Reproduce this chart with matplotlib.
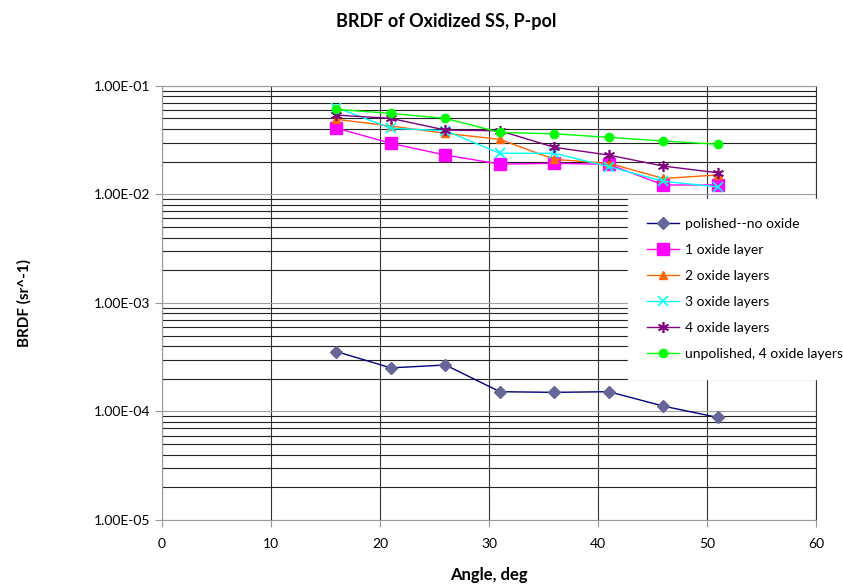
import matplotlib
matplotlib.use('Agg')
import matplotlib.pyplot as plt
from matplotlib.ticker import LogLocator, FuncFormatter, NullFormatter

plt.rcParams['font.family'] = ['Lato', 'DejaVu Sans']

angle = [16, 21, 26, 31, 36, 41, 46, 51]

polished = [3.56e-4, 2.52e-4, 2.68e-4, 1.52e-4, 1.50e-4, 1.52e-4, 1.12e-4, 8.8e-5]
oxide1 = [0.0408, 0.0295, 0.0230, 0.0190, 0.0193, 0.0189, 0.0122, 0.0122]
oxide2 = [0.0491, 0.0426, 0.0365, 0.0321, 0.0210, 0.0193, 0.0140, 0.0151]
oxide3 = [0.0630, 0.0406, 0.0385, 0.0239, 0.0239, 0.0180, 0.0132, 0.0117]
oxide4 = [0.0537, 0.0501, 0.0391, 0.0385, 0.0271, 0.0230, 0.0182, 0.0158]
unpolished4 = [0.0606, 0.0557, 0.0501, 0.0372, 0.0361, 0.0335, 0.0310, 0.0289]

labels = ['polished--no oxide', '1 oxide layer', '2 oxide layers',
          '3 oxide layers', '4 oxide layers', 'unpolished, 4 oxide layers']

fig = plt.figure(figsize=(8.43, 5.86), dpi=100)
ax = fig.add_axes([0.1922, 0.1126, 0.7758, 0.7410])

ax.plot(angle, polished, color='#000080', lw=1, marker='D', ms=6,
        mfc='#666699', mec='#666699', label=labels[0])
ax.plot(angle, oxide1, color='#FF00FF', lw=1, marker='s', ms=8,
        mfc='#FF00FF', mec='#FF00FF', label=labels[1])
ax.plot(angle, oxide2, color='#FF6600', lw=1, marker='^', ms=6,
        mfc='#FF6600', mec='#FF6600', label=labels[2])
ax.plot(angle, oxide3, color='#00FFFF', lw=1, marker='x', ms=7, mew=1.2,
        label=labels[3])
ax.plot(angle, oxide4, color='#800080', lw=1, marker=(6, 2, 0), ms=8,
        mew=1.2, label=labels[4])
ax.plot(angle, unpolished4, color='#00FF00', lw=1, marker='o', ms=6,
        mfc='#00FF00', mec='#00FF00', label=labels[5])

ax.set_yscale('log')
ax.set_ylim(1e-5, 1e-1)
ax.set_xlim(0, 60)
ax.set_xticks(range(0, 61, 10))
ax.yaxis.set_major_locator(LogLocator(base=10, numticks=10))
ax.yaxis.set_minor_locator(LogLocator(base=10, subs=range(2, 10), numticks=20))
ax.yaxis.set_major_formatter(FuncFormatter(lambda v, p: f"{v:.2E}"))
ax.yaxis.set_minor_formatter(NullFormatter())

ax.set_axisbelow(True)
ax.grid(which='minor', axis='y', color='#222222', lw=0.8)
ax.grid(which='major', axis='y', color='#a0a0a0', lw=0.8)
ax.grid(which='major', axis='x', color='#333333', lw=0.8)

for side in ['left', 'bottom', 'top']:
    ax.spines[side].set_color('#999999')
ax.spines['right'].set_color('#333333')
ax.spines['right'].set_linewidth(0.8)

ax.tick_params(which='major', length=5, color='#999999', labelsize=10,
               labelcolor='black')
ax.tick_params(axis='x', pad=8)
ax.tick_params(which='minor', length=0)

fig.text(0.5297, 0.964, 'BRDF of Oxidized SS, P-pol', ha='center',
         va='center', fontsize=13, fontweight='bold')
ax.set_xlabel('Angle, deg', fontsize=12, fontweight='bold', labelpad=12)
ax.set_ylabel('BRDF (sr^-1)', fontsize=11, fontweight='bold', labelpad=45)

leg = ax.legend(loc='upper left', bbox_to_anchor=(0.745, 0.660),
                bbox_transform=fig.transFigure, borderaxespad=0,
                fontsize=10, handlelength=2.3, handletextpad=0.4,
                labelspacing=1.0, fancybox=False, framealpha=1,
                edgecolor='white', borderpad=1.37)

fig.savefig('out.png', dpi=100)
